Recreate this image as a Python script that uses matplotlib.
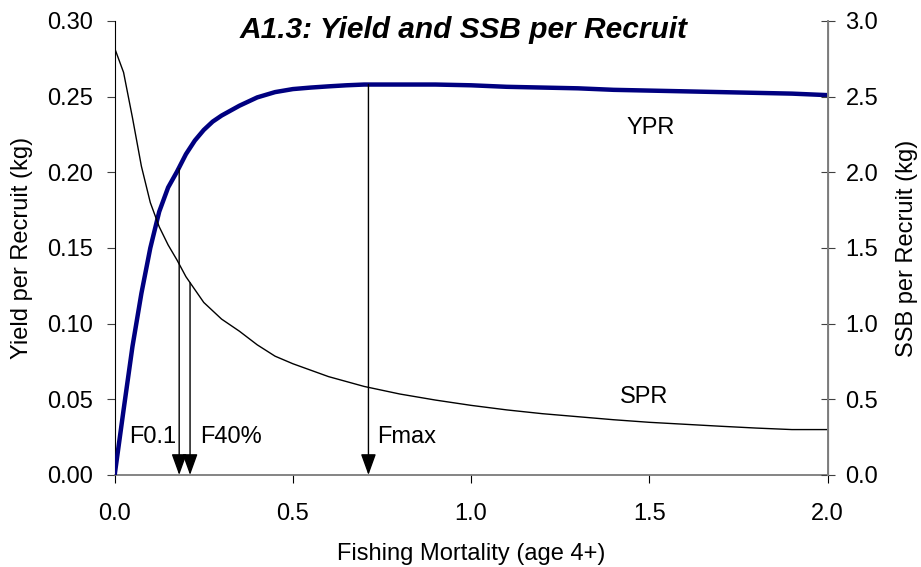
import numpy as np
import matplotlib
matplotlib.use("Agg")
import matplotlib.pyplot as plt

plt.rcParams['font.family'] = ['Liberation Sans', 'DejaVu Sans']

# fishing mortality grid and yield per recruit (kg)
f_ypr = [0.0, 0.025, 0.05, 0.075, 0.1, 0.125, 0.15, 0.175, 0.2, 0.225, 0.25,
         0.275, 0.3, 0.35, 0.4, 0.45, 0.5, 0.55, 0.6, 0.65, 0.7, 0.8, 0.9,
         1.0, 1.1, 1.2, 1.3, 1.4, 1.5, 1.6, 1.7, 1.8, 1.9, 2.0]
ypr = [0.0, 0.043, 0.085, 0.12, 0.15, 0.174, 0.19, 0.2005, 0.212, 0.221,
       0.228, 0.2335, 0.2375, 0.2440, 0.2495, 0.2530, 0.2550, 0.2560, 0.2568,
       0.2575, 0.258, 0.258, 0.258, 0.2575, 0.2565, 0.2560, 0.2555, 0.2545,
       0.2540, 0.2535, 0.2530, 0.2525, 0.2520, 0.2510]

# spawning stock biomass per recruit (kg), right axis
f_spr = [0.0, 0.025, 0.05, 0.075, 0.1, 0.125, 0.15, 0.175, 0.2, 0.25, 0.3,
         0.35, 0.4, 0.45, 0.5, 0.6, 0.7, 0.8, 0.9, 1.0, 1.1, 1.2, 1.3, 1.4,
         1.5, 1.6, 1.7, 1.8, 1.9, 2.0]
spr = [2.82, 2.66, 2.36, 2.04, 1.80, 1.64, 1.52, 1.42, 1.31, 1.14, 1.03,
       0.95, 0.86, 0.785, 0.735, 0.65, 0.585, 0.535, 0.495, 0.46, 0.43, 0.405,
       0.385, 0.365, 0.348, 0.335, 0.322, 0.31, 0.30, 0.30]

# reference points: F value, top of arrow (left-axis units), label
ref_f = [0.181, 0.2115, 0.712]
ref_top = [0.2027, 0.127, 0.258]
ref_labels = ['F0.1', 'F40%', 'Fmax']

fs = 17

fig = plt.figure(figsize=(9.21, 5.67), dpi=100)
ax = fig.add_axes([0.1245, 0.1623, 0.774, 0.8007])
ax2 = ax.twinx()

ax.plot(f_ypr, ypr, color='#000080', lw=3.2, zorder=3, solid_capstyle='butt')
ax2.plot(f_spr, spr, color='black', lw=1.0)

for f, top in zip(ref_f, ref_top):
    ax.annotate('', xy=(f, 0.0), xytext=(f, top),
                arrowprops=dict(arrowstyle='-|>,head_width=0.47,head_length=1.3',
                                color='black', lw=1.0, shrinkA=0, shrinkB=0))

ax.text(0.174, 0.0253, ref_labels[0], ha='right', va='center', fontsize=fs)
ax.text(0.2396, 0.0253, ref_labels[1], ha='left', va='center', fontsize=fs)
ax.text(0.736, 0.0253, ref_labels[2], ha='left', va='center', fontsize=fs)
ax.text(1.504, 0.229, 'YPR', ha='center', va='center', fontsize=fs)
ax.text(1.486, 0.0515, 'SPR', ha='center', va='center', fontsize=fs)
ax.text(1.607, 0.2885, 'A1.3: Yield and SSB per Recruit', ha='right',
        va='baseline', fontsize=21.5, fontweight='bold', style='italic')

ax.set_xlim(0, 2.0)
ax.set_ylim(0, 0.30)
ax2.set_ylim(0, 3.0)
ax.set_xticks([0.0, 0.5, 1.0, 1.5, 2.0])
ax.set_xticklabels(['0.0', '0.5', '1.0', '1.5', '2.0'])
ax.set_yticks(np.arange(0, 0.31, 0.05))
ax.set_yticklabels(['%.2f' % v for v in np.arange(0, 0.31, 0.05)])
ax2.set_yticks(np.arange(0, 3.1, 0.5))
ax2.set_yticklabels(['%.1f' % v for v in np.arange(0, 3.1, 0.5)])

ax.set_xlabel('Fishing Mortality (age 4+)', fontsize=fs)
ax.set_ylabel('Yield per Recruit (kg)', fontsize=fs)
ax2.set_ylabel('SSB per Recruit (kg)', fontsize=fs)
ax.xaxis.set_label_coords(0.5, -0.150)
ax.yaxis.set_label_coords(-0.1146, 0.5)
ax2.yaxis.set_label_coords(1.096, 0.5)

ax.tick_params(axis='y', direction='out', length=5.8, labelsize=fs, pad=9.5,
               color='#404040')
ax.tick_params(axis='x', direction='out', length=5.5, labelsize=fs, pad=15)
ax2.tick_params(axis='y', direction='inout', length=10, labelsize=fs, pad=8,
                color='#404040')

for a in (ax, ax2):
    a.spines['top'].set_visible(False)
ax.spines['left'].set_color('black')
ax.spines['bottom'].set_color('#707070')
ax.spines['bottom'].set_linewidth(1.2)
ax2.spines['right'].set_color('#808080')
ax2.spines['right'].set_linewidth(1.4)
ax2.spines['left'].set_visible(False)
ax2.spines['bottom'].set_visible(False)

fig.savefig('out.png', dpi=100)
